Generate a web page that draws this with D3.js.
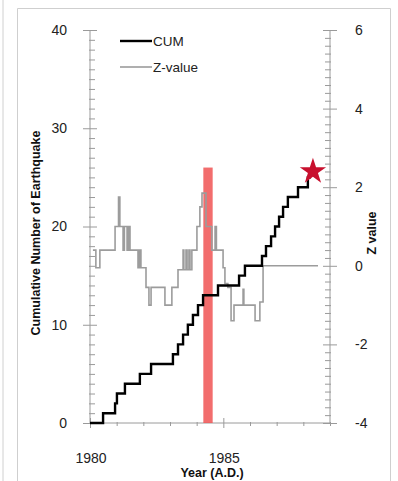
<!DOCTYPE html>
<html lang="en">
<head>
<meta charset="utf-8">
<title>CUM and Z-value</title>
<script src="https://d3js.org/d3.v7.min.js"></script>
<style>
body {
  margin: 0;
  background: #fff;
  font-family: "Liberation Sans", Arial, sans-serif;
}
.tick-label { font-size: 14px; fill: #222; }
.axis-title { font-size: 12.5px; font-weight: bold; fill: #111; }
.legend-text { font-size: 13.5px; fill: #222; }
</style>
</head>
<body>
<svg width="398" height="481"></svg>
<script>

// times (A.D.) at which each earthquake is counted -> cumulative count = index + 1
var eventYears = [1980.49, 1980.94, 1981.01, 1981.31, 1981.87, 1982.29,
  1983.11, 1983.30, 1983.49, 1983.67, 1983.86, 1984.05, 1984.24,
  1984.80, 1985.59, 1985.81, 1986.45, 1986.60, 1986.79, 1986.94,
  1987.09, 1987.24, 1987.42, 1987.80, 1988.17];
var cumStart = 1980.0, cumEnd = 1988.29;

// Z-value series (step changes)
var zYears = [1980.11, 1980.22, 1980.37, 1980.94, 1981.07, 1981.12, 1981.24, 1981.29,
  1981.39, 1981.44, 1981.50, 1981.80, 1981.86, 1981.91, 1982.10, 1982.21, 1982.29,
  1982.81, 1983.07, 1983.30, 1983.49, 1983.52, 1983.60, 1983.64, 1983.71, 1983.75,
  1983.82, 1984.01, 1984.12, 1984.20, 1984.35, 1984.57, 1984.69, 1984.74, 1984.99,
  1985.06, 1985.17, 1985.29, 1985.40, 1985.51, 1985.74, 1985.77, 1986.19, 1986.37,
  1986.49, 1988.55];
var zValues = [0.4, -0.05, 0.4, 1.0, 1.75, 1.0, 0.4, 1.0,
  0.4, 1.0, 0.4, -0.05, 0.4, -0.05, -0.55, -1.0, -0.55,
  -1.0, -0.55, -0.1, 0.4, -0.1, 0.4, -0.1, 0.4, -0.1,
  0.4, 1.0, 1.5, 1.85, 1.0, 0.4, 1.0, 0.4, -0.05,
  -0.45, -0.55, -1.4, -1.0, -1.0, -0.6, -1.0, -1.4, -0.92,
  0, 0];

// highlighted period and the star mark
var barYears = [1984.25, 1984.6], barTop = 26;
var starYear = 1988.36, starValue = 25.6;

var xTicks = [1980, 1985];
var leftTicks = [0, 10, 20, 30, 40];
var rightTicks = [-4, -2, 0, 2, 4, 6];

var svg = d3.select("svg");

var x = d3.scaleLinear().domain([1980, 1989]).range([90, 330]);
var yL = d3.scaleLinear().domain([0, 40]).range([423, 30]);
var yR = d3.scaleLinear().domain([-4, 6]).range([423, 30]);

// outer frame
svg.append("line").attr("x1", 3).attr("x2", 3).attr("y1", 0).attr("y2", 481)
  .attr("stroke", "#d0d0d0");
svg.append("path").attr("d", "M17.5,481V8.5H390.5V481")
  .attr("fill", "none").attr("stroke", "#cfcfcf");

var axisColor = "#9a9a9a";

// axis lines
svg.append("line").attr("x1", x(1980)).attr("x2", x(1980)).attr("y1", yL(40)).attr("y2", yL(0))
  .attr("stroke", axisColor);
svg.append("line").attr("x1", x(1989)).attr("x2", x(1989)).attr("y1", yR(6)).attr("y2", yR(-4))
  .attr("stroke", axisColor);
svg.append("line").attr("x1", x(1980)).attr("x2", x(1989)).attr("y1", yL(0)).attr("y2", yL(0))
  .attr("stroke", axisColor);

// left ticks
svg.append("g").selectAll("line").data(d3.range(0, 41, 1)).enter().append("line")
  .attr("x1", function(d) { return d % 10 === 0 ? x(1980) - 7 : x(1980) - 1; })
  .attr("x2", function(d) { return d % 10 === 0 ? x(1980) + 7 : x(1980) + 5; })
  .attr("y1", function(d) { return yL(d) + 0.5; })
  .attr("y2", function(d) { return yL(d) + 0.5; })
  .attr("stroke", axisColor);

// right ticks
svg.append("g").selectAll("line").data(d3.range(0, 51, 1)).enter().append("line")
  .attr("x1", function(d) { return d % 10 === 0 ? x(1989) - 7 : x(1989) - 5; })
  .attr("x2", function(d) { return d % 10 === 0 ? x(1989) + 7 : x(1989) + 1; })
  .attr("y1", function(d) { return yR(-4 + d * 0.2) + 0.5; })
  .attr("y2", function(d) { return yR(-4 + d * 0.2) + 0.5; })
  .attr("stroke", axisColor);

// bottom ticks
svg.append("g").selectAll("line").data(d3.range(1980, 1990)).enter().append("line")
  .attr("x1", function(d) { return x(d) + 0.5; })
  .attr("x2", function(d) { return x(d) + 0.5; })
  .attr("y1", function(d) { return d % 5 === 0 ? yL(0) - 5 : yL(0) - 1; })
  .attr("y2", function(d) { return d % 5 === 0 ? yL(0) + 5 : yL(0) + 3; })
  .attr("stroke", axisColor);

// tick labels
svg.append("g").selectAll("text").data(leftTicks).enter().append("text")
  .attr("class", "tick-label")
  .attr("x", 67).attr("y", function(d) { return yL(d); })
  .attr("dy", "0.35em").attr("text-anchor", "end")
  .text(function(d) { return d; });

svg.append("g").selectAll("text").data(rightTicks).enter().append("text")
  .attr("class", "tick-label")
  .attr("x", 355).attr("y", function(d) { return yR(d); })
  .attr("dy", "0.35em").attr("text-anchor", "start")
  .text(function(d) { return d; });

svg.append("g").selectAll("text").data(xTicks).enter().append("text")
  .attr("class", "tick-label")
  .attr("x", function(d) { return x(d) + 1; }).attr("y", 463)
  .attr("text-anchor", "middle")
  .text(function(d) { return d; });

// axis titles
svg.append("text").attr("class", "axis-title")
  .attr("transform", "translate(40,233) rotate(-90)")
  .attr("text-anchor", "middle")
  .text("Cumulative Number of Earthquake");

svg.append("text").attr("class", "axis-title")
  .attr("transform", "translate(376,233) rotate(-90)")
  .attr("text-anchor", "middle")
  .text("Z value");

svg.append("text").attr("class", "axis-title")
  .attr("x", 212).attr("y", 477)
  .attr("text-anchor", "middle")
  .style("font-size", "12.5px")
  .text("Year (A.D.)");

// red period bar
svg.append("rect")
  .attr("x", x(barYears[0])).attr("width", x(barYears[1]) - x(barYears[0]))
  .attr("y", yL(barTop)).attr("height", yL(0) - yL(barTop))
  .attr("fill", "#f05454").attr("opacity", 0.85);

// Z-value line
var zData = zYears.map(function(t, i) { return [t, zValues[i]]; });
svg.append("path").datum(zData)
  .attr("fill", "none").attr("stroke", "#9c9c9c").attr("stroke-width", 1.6)
  .attr("d", d3.line()
    .x(function(d) { return x(d[0]); })
    .y(function(d) { return yR(d[1]); })
    .curve(d3.curveStepAfter));

// cumulative line
var cumData = [[cumStart, 0]].concat(eventYears.map(function(t, i) { return [t, i + 1]; }));
cumData.push([cumEnd, eventYears.length]);
svg.append("path").datum(cumData)
  .attr("fill", "none").attr("stroke", "#000").attr("stroke-width", 2.4)
  .attr("d", d3.line()
    .x(function(d) { return x(d[0]); })
    .y(function(d) { return yL(d[1]); })
    .curve(d3.curveStepAfter));

// star
svg.append("path")
  .attr("transform", "translate(" + x(starYear) + "," + yL(starValue) + ")")
  .attr("d", d3.symbol(d3.symbolStar).size(215)())
  .attr("fill", "#c8102e");

// legend
var legend = [{name: "CUM", color: "#000", w: 2.4, y: 41}, {name: "Z-value", color: "#9c9c9c", w: 1.6, y: 67}];
var lg = svg.append("g").selectAll("g").data(legend).enter().append("g");
lg.append("line").attr("x1", 120).attr("x2", 152)
  .attr("y1", function(d) { return d.y; }).attr("y2", function(d) { return d.y; })
  .attr("stroke", function(d) { return d.color; })
  .attr("stroke-width", function(d) { return d.w; });
lg.append("text").attr("class", "legend-text")
  .attr("x", 153).attr("y", function(d) { return d.y; }).attr("dy", "0.35em")
  .text(function(d) { return d.name; });

</script>
</body>
</html>
